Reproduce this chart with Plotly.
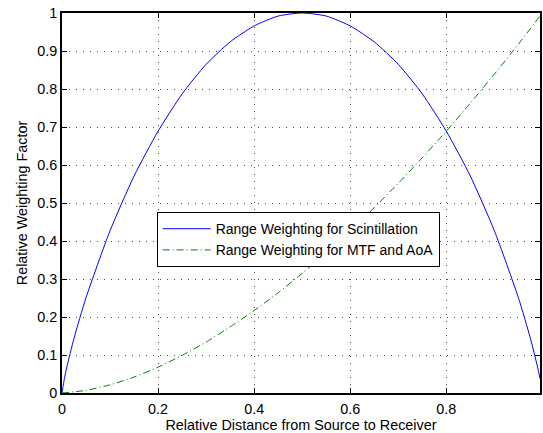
import plotly.graph_objects as go

# Relative distance from source to receiver
x_scint = [0, 0.005, 0.01, 0.025, 0.05, 0.1, 0.15, 0.2, 0.25, 0.3, 0.35, 0.4, 0.45, 0.5,
           0.55, 0.6, 0.65, 0.7, 0.75, 0.8, 0.85, 0.9, 0.95, 0.975, 0.99, 0.995]
y_scint = [0, 0.038, 0.068, 0.144, 0.251, 0.427, 0.571, 0.689, 0.787, 0.865, 0.924, 0.966, 0.992, 1.0,
           0.992, 0.966, 0.924, 0.865, 0.787, 0.689, 0.571, 0.427, 0.251, 0.144, 0.068, 0.038]

x_mtf = [0, 0.05, 0.1, 0.15, 0.2, 0.25, 0.3, 0.35, 0.4, 0.45, 0.5, 0.55, 0.6, 0.65, 0.7,
         0.75, 0.8, 0.85, 0.9, 0.95, 0.995]
y_mtf = [0, 0.007, 0.0215, 0.042, 0.068, 0.099, 0.134, 0.174, 0.217, 0.264, 0.315, 0.369, 0.427,
         0.488, 0.552, 0.619, 0.689, 0.763, 0.839, 0.918, 0.992]

x_ticks = [0, 0.2, 0.4, 0.6, 0.8]
x_ticktext = ["0", "0.2", "0.4", "0.6", "0.8"]
y_ticks = [0, 0.1, 0.2, 0.3, 0.4, 0.5, 0.6, 0.7, 0.8, 0.9, 1]
y_ticktext = ["0", "0.1", "0.2", "0.3", "0.4", "0.5", "0.6", "0.7", "0.8", "0.9", "1"]

FONT = "Liberation Sans, Arial, sans-serif"
FS = 14.4

fig = go.Figure()
fig.add_trace(go.Scatter(x=x_scint, y=y_scint, mode="lines",
                         name="Range Weighting for Scintillation",
                         line=dict(color="rgb(0,0,255)", width=1, shape="spline", smoothing=0.6)))
fig.add_trace(go.Scatter(x=x_mtf, y=y_mtf, mode="lines",
                         name="Range Weighting for MTF and AoA",
                         line=dict(color="rgb(0,128,0)", width=1, dash="7px,3px,1px,3px",
                                   shape="spline", smoothing=0.6)))

axis_common = dict(
    showline=True, linecolor="black", linewidth=1.5, mirror="ticks",
    ticks="inside", ticklen=5, tickcolor="black", tickwidth=1,
    showgrid=True, gridcolor="rgba(0,0,0,0.7)", gridwidth=1, griddash="1px,6px",
    zeroline=False, tickfont=dict(family=FONT, size=FS, color="black"),
    ticklabeloverflow="allow",
)

fig.update_xaxes(range=[0, 0.995], tickvals=x_ticks, ticktext=x_ticktext,
                 ticklabelstandoff=2,
                 title=dict(text="Relative Distance from Source to Receiver",
                            font=dict(family=FONT, size=FS, color="black"), standoff=2),
                 **axis_common)
fig.update_yaxes(range=[0, 1], tickvals=y_ticks, ticktext=y_ticktext,
                 title=dict(text="Relative Weighting Factor",
                            font=dict(family=FONT, size=FS, color="black"), standoff=6),
                 **axis_common)

fig.update_layout(
    width=543, height=433,
    margin=dict(l=62, r=1, t=13, b=40),
    paper_bgcolor="white", plot_bgcolor="white",
    font=dict(family=FONT, size=FS, color="black"),
    showlegend=True,
    legend=dict(x=0.198, y=0.476, xanchor="left", yanchor="top",
                bordercolor="black", borderwidth=1, bgcolor="white",
                font=dict(family=FONT, size=14.0, color="black"),
                tracegroupgap=0, itemwidth=48),
)

# remove the default page margin so the 543x433 figure fills the window exactly
fig.write_html("out.html",
               config={"displayModeBar": False},
               post_script="document.body.style.margin='0';document.body.style.overflow='hidden';")
